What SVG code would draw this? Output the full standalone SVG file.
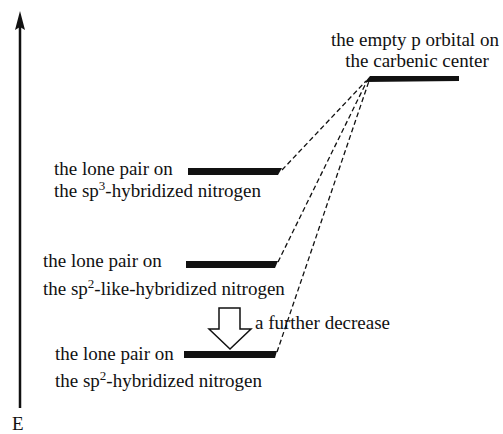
<svg xmlns="http://www.w3.org/2000/svg" width="503" height="434" viewBox="0 0 503 434">
<defs>
<style type="text/css">
.t { font-family: Liberation Serif, Times New Roman, Tinos, Noto Serif, DejaVu Serif, serif; font-size: 19px; fill: #111; }
.bar { fill: #111; }
.dash { stroke: #111; stroke-width: 1.3; stroke-dasharray: 5 3; fill: none; }
</style>
</defs>
<rect width="503" height="434" fill="#fff"/>
<g id="axis">
<line x1="20" y1="408" x2="20" y2="26" stroke="#111" stroke-width="2.5"/>
<polygon points="20,11 25,30 20,27 15,30" fill="#111"/>
<text class="t" x="12" y="430">E</text>
</g>
<g id="connectors">
<line class="dash" x1="282" y1="170" x2="366" y2="81"/>
<line class="dash" x1="278" y1="262" x2="367" y2="81"/>
<line class="dash" x1="277" y1="352" x2="369" y2="81"/>
</g>
<g id="carbene">
<polygon class="bar" points="370,76 459,76 459,81 365,82"/>
<text class="t" x="415" y="46" text-anchor="middle">the empty p orbital on</text>
<text class="t" x="417" y="67" text-anchor="middle">the carbenic center</text>
</g>
<g id="sp3">
<polygon class="bar" points="188,168 282,168 278,175 188,175"/>
<text class="t" x="54" y="175">the lone pair on</text>
<text class="t" x="54" y="197">the sp<tspan dy="-7" font-size="13">3</tspan><tspan dy="7">-hybridized nitrogen</tspan></text>
</g>
<g id="sp2like">
<polygon class="bar" points="186,261 278,261 275,268 186,268"/>
<text class="t" x="43" y="267">the lone pair on</text>
<text class="t" x="43" y="295">the sp<tspan dy="-7" font-size="13">2</tspan><tspan dy="7">-like-hybridized nitrogen</tspan></text>
</g>
<g id="decrease">
<polygon points="219,308 240,308 240,329 251,329 230,349 209,329 219,329" fill="#fff" stroke="#111" stroke-width="1.5"/>
<text class="t" x="255" y="329">a further decrease</text>
</g>
<g id="sp2">
<polygon class="bar" points="184,351 277,351 275,358 184,358"/>
<text class="t" x="55" y="360">the lone pair on</text>
<text class="t" x="55" y="387">the sp<tspan dy="-7" font-size="13">2</tspan><tspan dy="7">-hybridized nitrogen</tspan></text>
</g>
</svg>
